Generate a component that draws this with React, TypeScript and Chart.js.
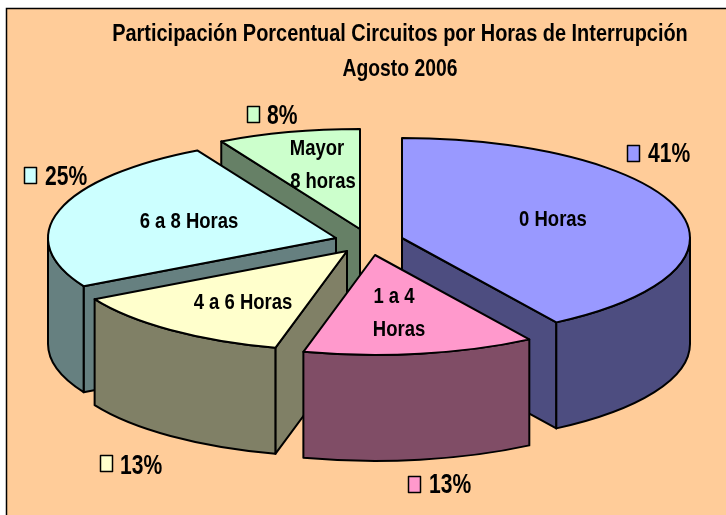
import React, { useEffect, useRef } from "react";
import { Chart, registerables } from "chart.js";

Chart.register(...registerables);

const categories = ["0 Horas", "1 a 4 Horas", "4 a 6 Horas", "6 a 8 Horas", "Mayor 8 horas"];
const shares = [41, 13, 13, 25, 8];
const titleLines = ["Participación Porcentual Circuitos por Horas de Interrupción", "Agosto 2006"];
const sliceLabelLines = [["0 Horas"], ["1 a 4", "Horas"], ["4 a 6 Horas"], ["6 a 8 Horas"], ["Mayor", "8 horas"]];

const topColors = ["#9999FF", "#FF99CC", "#FFFFCC", "#CCFFFF", "#CCFFCC"];
const wallColors = ["#4D4D80", "#804D66", "#808066", "#668080", "#668066"];
const explodeX = [35, 8, -20, -31, -7];
const explodeY = [0, 17, 13, 0, -9];
const paintOrder = [4, 3, 0, 2, 1];

const PIE_X = 367;
const PIE_Y = 238;
const RADIUS = 288;
const SQUASH = 0.347;
const DEPTH = 106;
const SANS = '"Liberation Sans", Arial, sans-serif';

// text anchors: [x, y] for each line of each slice label
const sliceLabelAt = [
  [[553, 220]],
  [[394, 297], [399, 330]],
  [[243, 303]],
  [[189, 222]],
  [[317, 149], [323, 182]],
];
// key square left/top and percent text start
const percentAt = [
  [627, 145, 648, 155],
  [408, 476, 429, 486],
  [100, 455, 120, 467],
  [24, 167, 45, 178],
  [247, 106, 267, 117],
];

// condensed text, because the original face is narrower than any installed one
function squeezed(ctx: any, text: string, x: number, y: number, sx: number) {
  ctx.save();
  ctx.translate(x, y);
  ctx.scale(sx, 1);
  ctx.fillText(text, 0, 0);
  ctx.restore();
}

const frame = {
  id: "frame",
  beforeDraw(chart: any) {
    const { ctx, width, height } = chart;
    ctx.save();
    ctx.fillStyle = "#FFFFFF";
    ctx.fillRect(0, 0, width, height);
    ctx.fillStyle = "#FFCC99";
    ctx.fillRect(6, 8, width - 6, height - 8);
    ctx.strokeStyle = "#000000";
    ctx.lineWidth = 1.5;
    ctx.beginPath();
    ctx.moveTo(width, 8.5);
    ctx.lineTo(6.5, 8.5);
    ctx.lineTo(6.5, height);
    ctx.stroke();
    ctx.restore();
  },
};

const pie3d = {
  id: "pie3d",
  beforeDatasetDraw() {
    return false;
  },
  afterDatasetsDraw(chart: any) {
    const { ctx } = chart;
    const arcs = chart.getDatasetMeta(0).data;
    ctx.save();
    ctx.lineWidth = 2;
    ctx.strokeStyle = "#000000";
    ctx.lineJoin = "round";
    for (const i of paintOrder) {
      const arc = arcs[i];
      const s = arc.startAngle;
      const e = arc.endAngle;
      const ax = PIE_X + explodeX[i];
      const ay = PIE_Y + explodeY[i];
      const px = (t: number) => ax + Math.cos(t) * RADIUS;
      const py = (t: number) => ay + Math.sin(t) * RADIUS * SQUASH;
      ctx.fillStyle = wallColors[i];
      const face = (t: number) => {
        ctx.beginPath();
        ctx.moveTo(ax, ay);
        ctx.lineTo(px(t), py(t));
        ctx.lineTo(px(t), py(t) + DEPTH);
        ctx.lineTo(ax, ay + DEPTH);
        ctx.closePath();
        ctx.fill();
        ctx.stroke();
      };
      if (-Math.cos(s) > 1e-6) face(s);
      if (Math.cos(e) > 1e-6) face(e);
      const a = Math.max(s, 0);
      const b = Math.min(e, Math.PI);
      if (a < b) {
        ctx.beginPath();
        ctx.ellipse(ax, ay, RADIUS, RADIUS * SQUASH, 0, a, b);
        ctx.lineTo(px(b), py(b) + DEPTH);
        ctx.ellipse(ax, ay + DEPTH, RADIUS, RADIUS * SQUASH, 0, b, a, true);
        ctx.closePath();
        ctx.fill();
        ctx.stroke();
      }
      // top face: the library's own arc, under a flattening transform
      ctx.save();
      ctx.transform(1, 0, 0, SQUASH, ax - arc.x, ay - arc.y * SQUASH);
      arc.draw(ctx);
      ctx.restore();
      ctx.beginPath();
      ctx.moveTo(ax, ay);
      ctx.ellipse(ax, ay, RADIUS, RADIUS * SQUASH, 0, s, e);
      ctx.closePath();
      ctx.stroke();
    }

    ctx.fillStyle = "#000000";
    ctx.textBaseline = "middle";
    ctx.textAlign = "center";
    ctx.font = `bold 23px ${SANS}`;
    squeezed(ctx, titleLines[0], 400, 35, 0.866);
    squeezed(ctx, titleLines[1], 400, 70, 0.84);
    ctx.font = `bold 22px ${SANS}`;
    sliceLabelLines.forEach((lines, i) => {
      lines.forEach((line, j) => squeezed(ctx, line, sliceLabelAt[i][j][0], sliceLabelAt[i][j][1], 0.84));
    });
    ctx.textAlign = "left";
    ctx.font = `bold 27px ${SANS}`;
    shares.forEach((v, i) => {
      const [kx, ky, tx, ty] = percentAt[i];
      ctx.fillStyle = topColors[i];
      ctx.fillRect(kx + 0.5, ky + 0.5, 12, 16);
      ctx.lineWidth = 1.5;
      ctx.strokeRect(kx + 0.5, ky + 0.5, 12, 16);
      ctx.fillStyle = "#000000";
      squeezed(ctx, `${v}%`, tx, ty, 0.78);
    });
    ctx.restore();
  },
};

export default function App() {
  const ref = useRef<HTMLCanvasElement>(null);
  useEffect(() => {
    document.body.style.margin = "0";
    document.body.style.overflow = "hidden";
    const chart = new Chart(ref.current as HTMLCanvasElement, {
      type: "pie",
      data: {
        labels: categories,
        datasets: [{ data: shares, backgroundColor: topColors, borderWidth: 0 }],
      },
      options: {
        animation: false,
        responsive: false,
        radius: RADIUS,
        plugins: {
          legend: { display: false },
          tooltip: { enabled: false },
          title: { display: false },
        },
      } as any,
      plugins: [frame, pie3d],
    });
    return () => chart.destroy();
  }, []);
  return <canvas ref={ref} width={726} height={515} style={{ display: "block", width: 726, height: 515 }} />;
}
